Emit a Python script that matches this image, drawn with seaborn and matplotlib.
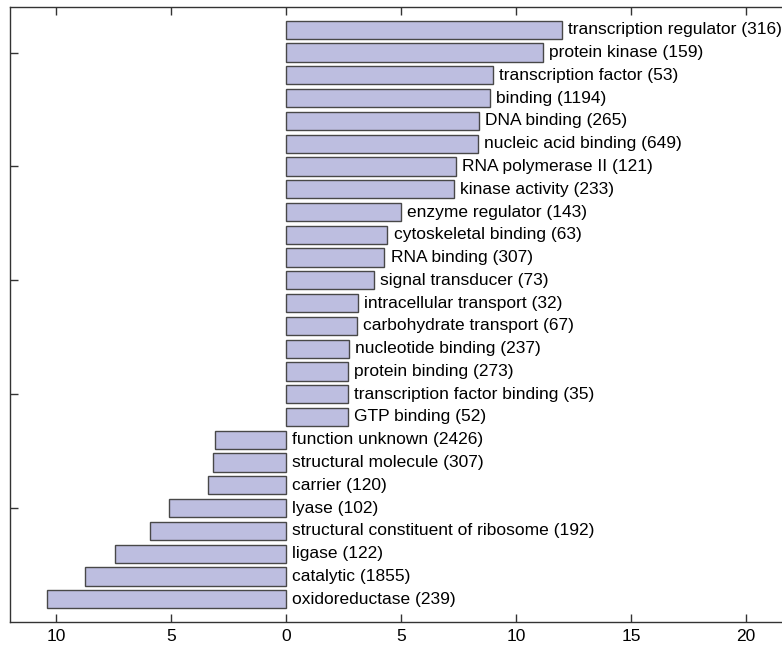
import matplotlib
matplotlib.use("Agg")
import matplotlib.pyplot as plt
import seaborn as sns
import pandas as pd

# GO term categories, top to bottom
terms = [
    "transcription regulator", "protein kinase", "transcription factor",
    "binding", "DNA binding", "nucleic acid binding", "RNA polymerase II",
    "kinase activity", "enzyme regulator", "cytoskeletal binding",
    "RNA binding", "signal transducer", "intracellular transport",
    "carbohydrate transport", "nucleotide binding", "protein binding",
    "transcription factor binding", "GTP binding", "function unknown",
    "structural molecule", "carrier", "lyase",
    "structural constituent of ribosome", "ligase", "catalytic",
    "oxidoreductase",
]
gene_counts = [316, 159, 53, 1194, 265, 649, 121, 233, 143, 63, 307, 73, 32,
               67, 237, 273, 35, 52, 2426, 307, 120, 102, 192, 122, 1855, 239]
scores = [12.0, 11.16, 8.99, 8.87, 8.38, 8.33, 7.39, 7.30, 5.0, 4.41, 4.28,
          3.83, 3.13, 3.07, 2.75, 2.70, 2.68, 2.68, -3.07, -3.16, -3.41,
          -5.10, -5.90, -7.43, -8.72, -10.38]
xticks = [-10, -5, 0, 5, 10, 15, 20]

df = pd.DataFrame({"term": terms, "count": gene_counts, "score": scores})
df["label"] = [f"{t} ({c})" for t, c in zip(df["term"], df["count"])]

sns.set_style("white")
plt.rcParams["font.family"] = ["Liberation Sans", "DejaVu Sans"]

fig = plt.figure(figsize=(7.82, 6.47), dpi=100)
ax = fig.add_axes([10 / 782, 25 / 647, 772 / 782, 615 / 647])

sns.barplot(data=df, x="score", y="term", orient="h", color="#bdbee0",
            saturation=1, edgecolor="#484848", linewidth=1.0, width=0.8, ax=ax)

# labels sit right of the bar end, or right of zero for negative bars
for i, row in df.iterrows():
    xpos = max(row["score"], 0)
    ax.annotate(row["label"], (xpos, i), xytext=(4.5, 0),
                textcoords="offset points", va="center", ha="left",
                fontsize=12.5, color="black")

ax.set_xlim(-12, 21.57)
ax.set_ylim(26, -1)
ax.set_xticks(xticks)
ax.set_xticklabels([str(abs(t)) for t in xticks])
ax.set_yticks([1, 6, 11, 16, 21])
ax.set_yticklabels([])
ax.set_xlabel("")
ax.set_ylabel("")

ax.tick_params(axis="x", direction="in", top=True, bottom=True, length=6,
               width=1, color="#333333", labelsize=12.5, labelcolor="black",
               pad=5)
ax.tick_params(axis="y", direction="in", left=True, right=False, length=6,
               width=1, color="#333333")
for s in ["left", "top", "bottom"]:
    ax.spines[s].set_color("#333333")
    ax.spines[s].set_linewidth(1)
ax.spines["right"].set_visible(False)

fig.savefig("out.png", dpi=100)
